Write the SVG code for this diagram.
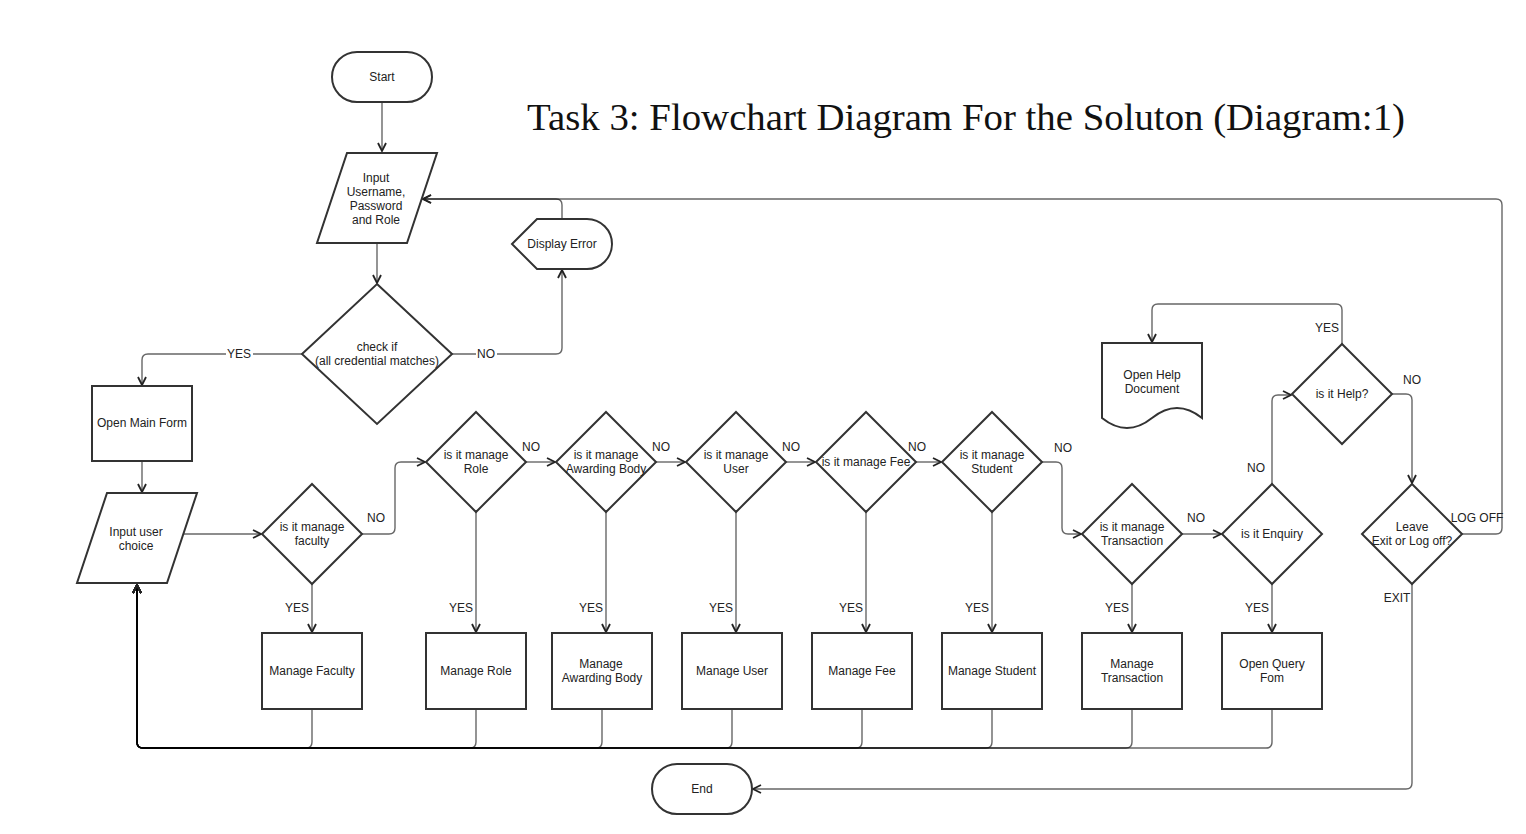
<svg xmlns="http://www.w3.org/2000/svg" width="1526" height="834" viewBox="0 0 1526 834">
<defs>
<style>
.n{fill:#fff;stroke:#333;stroke-width:2}
.t{font-family:"Liberation Sans",Arial,sans-serif;font-size:12px;fill:#222;text-anchor:middle;dominant-baseline:central}
.c{fill:none;stroke:#000;stroke-opacity:0.6;stroke-width:1.4}
.a{marker-end:url(#arr)}
.lb{fill:#fff}
.title{font-family:"Liberation Serif","Times New Roman",serif;font-size:38px;fill:#111}
</style>
<marker id="arr" viewBox="0 0 10 10" refX="9" refY="5" markerWidth="10" markerHeight="10" markerUnits="userSpaceOnUse" orient="auto">
<path d="M1,1 L9,5 L1,9" fill="none" stroke="#222" stroke-width="1.8"/>
</marker>
</defs>
<rect width="1526" height="834" fill="#fff"/>
<text class="title" x="527" y="130" textLength="878" lengthAdjust="spacingAndGlyphs">Task 3: Flowchart Diagram For the Soluton (Diagram:1)</text>

<g id="connectors">
<path class="c a" d="M382,102 V151"/>
<path class="c a" d="M377,243 V283"/>
<path class="c a" d="M302,354 H148 Q142,354 142,360 V385"/>
<path class="c a" d="M452,354 H556 Q562,354 562,348 V270"/>
<path class="c a" d="M562,219 V205 Q562,199 556,199 H423"/>
<path class="c a" d="M142,461 V492"/>
<path class="c a" d="M182,534 H261"/>
<path class="c a" d="M312,584 V632"/>
<path class="c a" d="M362,534 H389 Q395,534 395,528 V468 Q395,462 401,462 H425"/>
<path class="c a" d="M476,512 V632"/>
<path class="c a" d="M526,462 H555"/>
<path class="c a" d="M606,512 V632"/>
<path class="c a" d="M656,462 H685"/>
<path class="c a" d="M736,512 V632"/>
<path class="c a" d="M786,462 H815"/>
<path class="c a" d="M866,512 V632"/>
<path class="c a" d="M916,462 H941"/>
<path class="c a" d="M992,512 V632"/>
<path class="c a" d="M1042,462 H1056 Q1062,462 1062,468 V528 Q1062,534 1068,534 H1081"/>
<path class="c a" d="M1132,584 V632"/>
<path class="c a" d="M1182,534 H1221"/>
<path class="c a" d="M1272,584 V632"/>
<path class="c a" d="M1272,484 V401 Q1272,395 1278,395 H1291"/>
<path class="c a" d="M1342,344 V310 Q1342,304 1336,304 H1158 Q1152,304 1152,310 V342"/>
<path class="c a" d="M1392,394 H1406 Q1412,394 1412,400 V483"/>
<path class="c a" d="M1462,534 H1496 Q1502,534 1502,528 V205 Q1502,199 1496,199 H423"/>
<path class="c a" d="M1412,584 V783 Q1412,789 1406,789 H753"/>
<path class="c a" d="M312,709 V742 Q312,748 306,748 H143 Q137,748 137,742 V585"/>
<path class="c a" d="M476,709 V742 Q476,748 470,748 H143 Q137,748 137,742 V585"/>
<path class="c a" d="M602,709 V742 Q602,748 596,748 H143 Q137,748 137,742 V585"/>
<path class="c a" d="M732,709 V742 Q732,748 726,748 H143 Q137,748 137,742 V585"/>
<path class="c a" d="M862,709 V742 Q862,748 856,748 H143 Q137,748 137,742 V585"/>
<path class="c a" d="M992,709 V742 Q992,748 986,748 H143 Q137,748 137,742 V585"/>
<path class="c a" d="M1132,709 V742 Q1132,748 1126,748 H143 Q137,748 137,742 V585"/>
<path class="c a" d="M1272,709 V742 Q1272,748 1266,748 H143 Q137,748 137,742 V585"/>
<rect class="lb" x="226" y="347" width="27" height="14"/>
<text class="t" x="239" y="354">YES</text>
<rect class="lb" x="476" y="347" width="21" height="14"/>
<text class="t" x="486" y="354">NO</text>
<text class="t" x="376" y="518">NO</text>
<text class="t" x="531" y="447">NO</text>
<text class="t" x="661" y="447">NO</text>
<text class="t" x="791" y="447">NO</text>
<text class="t" x="917" y="447">NO</text>
<text class="t" x="1063" y="448">NO</text>
<text class="t" x="1196" y="518">NO</text>
<text class="t" x="1256" y="468">NO</text>
<text class="t" x="1412" y="380">NO</text>
<text class="t" x="1327" y="328">YES</text>
<text class="t" x="1477" y="518">LOG OFF</text>
<text class="t" x="1397" y="598">EXIT</text>
<text class="t" x="297" y="608">YES</text>
<text class="t" x="461" y="608">YES</text>
<text class="t" x="591" y="608">YES</text>
<text class="t" x="721" y="608">YES</text>
<text class="t" x="851" y="608">YES</text>
<text class="t" x="977" y="608">YES</text>
<text class="t" x="1117" y="608">YES</text>
<text class="t" x="1257" y="608">YES</text>
</g>

<g id="start"><rect class="n" x="332" y="52" width="100" height="50" rx="25"/><text class="t" x="382" y="77">Start</text></g>
<g id="input-login"><polygon class="n" points="347,153 437,153 407,243 317,243"/>
<text class="t" x="376" y="178">Input</text><text class="t" x="376" y="192">Username,</text><text class="t" x="376" y="206">Password</text><text class="t" x="376" y="220">and Role</text></g>
<g id="check"><polygon class="n" points="377,284 452,354 377,424 302,354"/>
<text class="t" x="377" y="347">check if</text><text class="t" x="377" y="361">(all credential matches)</text></g>
<g id="display-error"><path class="n" d="M512,244 L537,219 H587 A25,25 0 0 1 587,269 H537 Z"/><text class="t" x="562" y="244">Display Error</text></g>
<g id="open-main"><rect class="n" x="92" y="386" width="100" height="75"/><text class="t" x="142" y="423">Open Main Form</text></g>
<g id="input-choice"><polygon class="n" points="107,493 197,493 167,583 77,583"/>
<text class="t" x="136" y="532">Input user</text><text class="t" x="136" y="546">choice</text></g>

<g id="q-faculty"><polygon class="n" points="312,484 362,534 312,584 262,534"/><text class="t" x="312" y="527">is it manage</text><text class="t" x="312" y="541">faculty</text></g>
<g id="q-role"><polygon class="n" points="476,412 526,462 476,512 426,462"/><text class="t" x="476" y="455">is it manage</text><text class="t" x="476" y="469">Role</text></g>
<g id="q-awarding"><polygon class="n" points="606,412 656,462 606,512 556,462"/><text class="t" x="606" y="455">is it manage</text><text class="t" x="606" y="469">Awarding Body</text></g>
<g id="q-user"><polygon class="n" points="736,412 786,462 736,512 686,462"/><text class="t" x="736" y="455">is it manage</text><text class="t" x="736" y="469">User</text></g>
<g id="q-fee"><polygon class="n" points="866,412 916,462 866,512 816,462"/><text class="t" x="866" y="462">is it manage Fee</text></g>
<g id="q-student"><polygon class="n" points="992,412 1042,462 992,512 942,462"/><text class="t" x="992" y="455">is it manage</text><text class="t" x="992" y="469">Student</text></g>
<g id="q-transaction"><polygon class="n" points="1132,484 1182,534 1132,584 1082,534"/><text class="t" x="1132" y="527">is it manage</text><text class="t" x="1132" y="541">Transaction</text></g>
<g id="q-enquiry"><polygon class="n" points="1272,484 1322,534 1272,584 1222,534"/><text class="t" x="1272" y="534">is it Enquiry</text></g>
<g id="q-help"><polygon class="n" points="1342,344 1392,394 1342,444 1292,394"/><text class="t" x="1342" y="394">is it Help?</text></g>
<g id="q-leave"><polygon class="n" points="1412,484 1462,534 1412,584 1362,534"/><text class="t" x="1412" y="527">Leave</text><text class="t" x="1412" y="541">Exit or Log off?</text></g>

<g id="m-faculty"><rect class="n" x="262" y="633" width="100" height="76"/><text class="t" x="312" y="671">Manage Faculty</text></g>
<g id="m-role"><rect class="n" x="426" y="633" width="100" height="76"/><text class="t" x="476" y="671">Manage Role</text></g>
<g id="m-awarding"><rect class="n" x="552" y="633" width="100" height="76"/><text class="t" x="601" y="664">Manage</text><text class="t" x="602" y="678">Awarding Body</text></g>
<g id="m-user"><rect class="n" x="682" y="633" width="100" height="76"/><text class="t" x="732" y="671">Manage User</text></g>
<g id="m-fee"><rect class="n" x="812" y="633" width="100" height="76"/><text class="t" x="862" y="671">Manage Fee</text></g>
<g id="m-student"><rect class="n" x="942" y="633" width="100" height="76"/><text class="t" x="992" y="671">Manage Student</text></g>
<g id="m-transaction"><rect class="n" x="1082" y="633" width="100" height="76"/><text class="t" x="1132" y="664">Manage</text><text class="t" x="1132" y="678">Transaction</text></g>
<g id="m-query"><rect class="n" x="1222" y="633" width="100" height="76"/><text class="t" x="1272" y="664">Open Query</text><text class="t" x="1272" y="678">Fom</text></g>
<g id="help-doc"><path class="n" d="M1102,343 H1202 V418 Q1177,398 1152,418 Q1127,438 1102,418 Z"/><text class="t" x="1152" y="375">Open Help</text><text class="t" x="1152" y="389">Document</text></g>
<g id="end"><rect class="n" x="652" y="764" width="100" height="50" rx="25"/><text class="t" x="702" y="789">End</text></g>
</svg>
